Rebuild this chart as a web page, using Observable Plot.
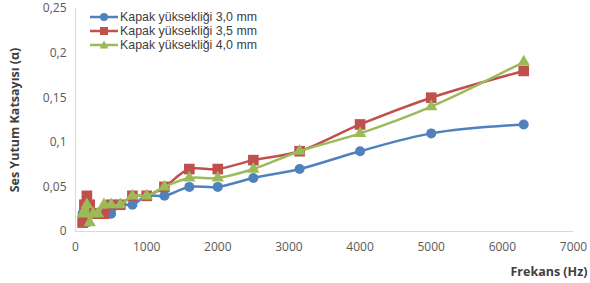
<!DOCTYPE html>
<html><head><meta charset="utf-8">
<script src="https://cdn.jsdelivr.net/npm/d3@7"></script>
<script src="https://cdn.jsdelivr.net/npm/@observablehq/plot@0.6"></script>
<style>
body{margin:0;background:#fff;font-family:"Open Sans",sans-serif;}
#wrap{position:relative;width:590px;height:283px;}
#legend{position:absolute;left:90px;top:10px;font-family:"Liberation Sans",Arial,sans-serif;font-size:12.4px;line-height:14px;color:#404040;}
.row{display:flex;align-items:center;height:14px;white-space:nowrap;}
.row span{line-height:14px;display:block;height:14px;}
.row svg{margin-right:2px;display:block;}
</style></head><body><div id="wrap"><div id="legend"></div></div>
<script>
const freqs = [100,125,160,200,250,315,400,500,630,800,1000,1250,1600,2000,2500,3150,4000,5000,6300];
const seriesNames = ["Kapak yüksekliği 3,0 mm","Kapak yüksekliği 3,5 mm","Kapak yüksekliği 4,0 mm"];
const alpha30 = [0.02,0.01,0.01,0.02,0.02,0.02,0.02,0.02,0.03,0.03,0.04,0.04,0.05,0.05,0.06,0.07,0.09,0.11,0.12];
const alpha35 = [0.01,0.03,0.04,0.03,0.02,0.02,0.02,0.03,0.03,0.04,0.04,0.05,0.07,0.07,0.08,0.09,0.12,0.15,0.18];
const alpha40 = [0.02,0.02,0.03,0.01,0.02,0.02,0.03,0.03,0.03,0.04,0.04,0.05,0.06,0.06,0.07,0.09,0.11,0.14,0.19];
const xTicks = [0,1000,2000,3000,4000,5000,6000,7000];
const yTicks = [0,0.05,0.1,0.15,0.2,0.25];
const xLabel = "Frekans (Hz)";
const yLabel = "Ses Yutum Katsayısı (α)";

const colors = ["#4F81BD","#C0504D","#9BBB59"];
const symbols = ["circle","square","triangle"];
const radii = [5,6,4.6];
const values = [alpha30, alpha35, alpha40];

const fmt = d => String(d).replace(".", ",");

const seriesMarks = seriesNames.flatMap((name, i) => {
  const data = freqs.map((f, j) => ({f, a: values[i][j]}));
  return [
    Plot.line(data, {x: "f", y: "a", stroke: colors[i], strokeWidth: 2.5, curve: "catmull-rom"}),
    Plot.dot(data, {x: "f", y: "a", fill: colors[i], symbol: symbols[i], r: radii[i], stroke: "none"})
  ];
});

const chart = Plot.plot({
  width: 590, height: 283,
  marginLeft: 75, marginRight: 17, marginTop: 8, marginBottom: 52,
  style: {fontFamily: "Open Sans", fontSize: "12px", color: "#595959", background: "#fff"},
  x: {domain: [0, 7000], ticks: xTicks, tickFormat: d => String(d), tickSize: 0, tickPadding: 11, label: null},
  y: {domain: [0, 0.25], ticks: yTicks, tickFormat: fmt, tickSize: 0, tickPadding: 9, label: null},
  marks: [
    Plot.ruleY([0], {stroke: "#d9d9d9"}),
    Plot.ruleX([0], {stroke: "#d9d9d9"}),
    ...seriesMarks,
    Plot.text([xLabel], {frameAnchor: "bottom-right", dx: 14, dy: 40, textAnchor: "end", lineAnchor: "middle", fontWeight: "bold", fontSize: 12.5, fill: "#404040"}),
    Plot.text([yLabel], {frameAnchor: "left", dx: -61, rotate: -90, textAnchor: "middle", lineAnchor: "middle", fontWeight: "bold", fontSize: 12.5, fill: "#404040"})
  ]
});
document.getElementById("wrap").appendChild(chart);

const legend = document.getElementById("legend");
seriesNames.forEach((name, i) => {
  const row = document.createElement("div");
  row.className = "row";
  let marker;
  if (symbols[i] === "circle") marker = `<circle cx="14" cy="7" r="4" fill="${colors[i]}"/>`;
  else if (symbols[i] === "square") marker = `<rect x="10" y="3" width="8" height="8" fill="${colors[i]}"/>`;
  else marker = `<path d="M14,2.5L18.5,10.5L9.5,10.5Z" fill="${colors[i]}"/>`;
  row.innerHTML = `<svg width="28" height="14"><line x1="0" y1="7" x2="28" y2="7" stroke="${colors[i]}" stroke-width="2.5"/>${marker}</svg><span>${name}</span>`;
  legend.appendChild(row);
});
</script>
</body></html>
